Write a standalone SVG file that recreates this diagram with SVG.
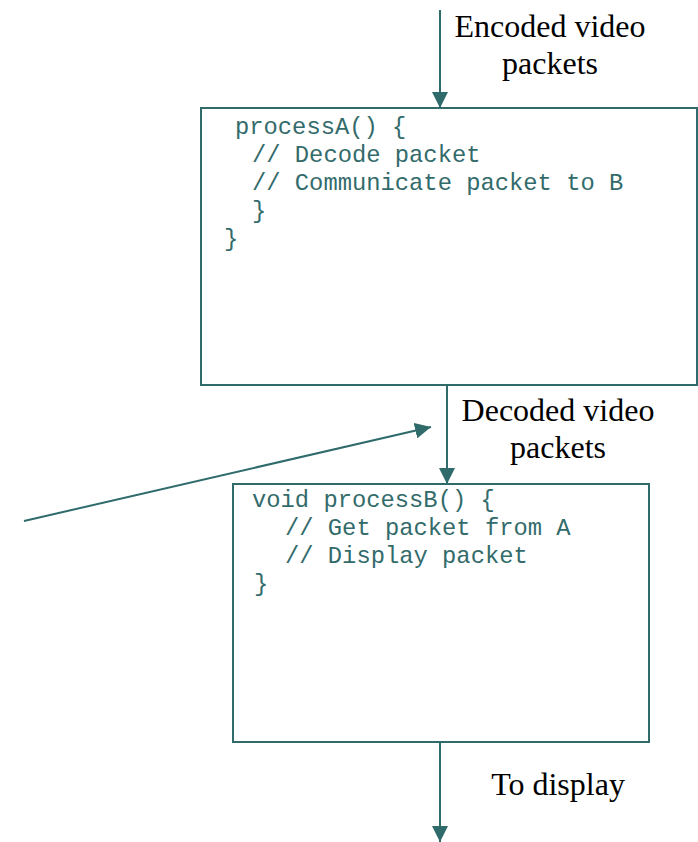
<svg xmlns="http://www.w3.org/2000/svg" width="698" height="842" viewBox="0 0 698 842">
  <style>
    .box { fill: #ffffff; stroke: #2f6b6b; stroke-width: 2; }
    .code { font-family: "Liberation Mono", "Courier New", monospace; font-size: 23.8px; fill: #336b6b; white-space: pre; }
    .label { font-family: "Liberation Serif", "Times New Roman", serif; font-size: 32px; fill: #000000; text-anchor: middle; }
    .wire { stroke: #2f6b6b; stroke-width: 2; fill: none; marker-end: url(#head); }
  </style>
  <defs>
    <marker id="head" viewBox="0 0 16 16" refX="16" refY="8" markerWidth="16" markerHeight="16" markerUnits="userSpaceOnUse" orient="auto">
      <path d="M0,0 L16,8 L0,16 Z" fill="#2f6b6b"/>
    </marker>
  </defs>

  <rect width="698" height="842" fill="#ffffff"/>

  <g id="connectors">
    <line class="wire" x1="440" y1="10" x2="440" y2="108"/>
    <line class="wire" x1="447" y1="386" x2="447" y2="484"/>
    <line class="wire" x1="440" y1="743" x2="440" y2="842"/>
    <line class="wire" x1="24" y1="521" x2="431" y2="427"/>
  </g>

  <g id="processA">
    <rect class="box" x="201" y="108" width="496" height="277"/>
    <text class="code" x="235" y="134">processA() {</text>
    <text class="code" x="252" y="162">// Decode packet</text>
    <text class="code" x="252" y="190">// Communicate packet to B</text>
    <text class="code" x="252" y="218">}</text>
    <text class="code" x="224" y="246">}</text>
  </g>

  <g id="processB">
    <rect class="box" x="233" y="484" width="416" height="258"/>
    <text class="code" x="252" y="507">void processB() {</text>
    <text class="code" x="285" y="535">// Get packet from A</text>
    <text class="code" x="285" y="563">// Display packet</text>
    <text class="code" x="254" y="591">}</text>
  </g>

  <g id="labels">
    <text class="label" x="550" y="37">Encoded video</text>
    <text class="label" x="550" y="74">packets</text>
    <text class="label" x="558" y="421">Decoded video</text>
    <text class="label" x="558" y="458">packets</text>
    <text class="label" x="558" y="795">To display</text>
  </g>
</svg>
